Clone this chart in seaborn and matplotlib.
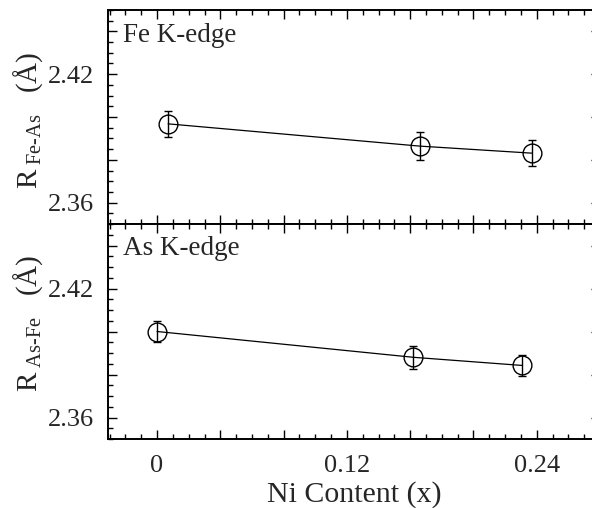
import numpy as np
import pandas as pd
import matplotlib
matplotlib.use("Agg")
import matplotlib.pyplot as plt
from matplotlib.ticker import MultipleLocator, FuncFormatter
import seaborn as sns

# Data
fe_x = [0.007, 0.166, 0.237]
fe_r = [2.3968, 2.3864, 2.3831]
fe_err = [0.0060, 0.0066, 0.0060]

as_x = [0.000, 0.162, 0.231]
as_r = [2.4000, 2.3880, 2.3842]
as_err = [0.0050, 0.0054, 0.0047]

panel_titles = ["Fe K-edge", "As K-edge"]
y_labels = [r"R$_{\ \text{Fe-As}}\quad$(Å)", r"R$_{\ \text{As-Fe}}\quad$(Å)"]
x_tick_labels = {0.0: "0", 0.12: "0.12", 0.24: "0.24"}
y_tick_labels = {2.36: "2.36", 2.42: "2.42"}

sns.set_theme(style="ticks")
plt.rcParams['font.family'] = ['Liberation Serif', 'DejaVu Serif']
plt.rcParams['mathtext.fontset'] = 'custom'
plt.rcParams['mathtext.rm'] = 'Liberation Serif'
plt.rcParams['mathtext.it'] = 'Liberation Serif:italic'
plt.rcParams['mathtext.bf'] = 'Liberation Serif:bold'

W, H = 592, 508
fig = plt.figure(figsize=(W / 100, H / 100), dpi=100)
left = 108 / W
width = (600 - 108) / W
ax_top = fig.add_axes([left, 1 - 224 / H, width, 214 / H])
ax_bot = fig.add_axes([left, 1 - 439 / H, width, 215 / H], sharex=ax_top)


def fmt_from(labels):
    def f(v, pos):
        for k, s in labels.items():
            if abs(v - k) < 1e-6:
                return s
        return ""
    return FuncFormatter(f)


panels = [
    (ax_top, fe_x, fe_r, fe_err),
    (ax_bot, as_x, as_r, as_err),
]
label_y = [0.486, 0.537]

for i, (ax, xs, rs, errs) in enumerate(panels):
    df = pd.DataFrame({"x": xs, "r": rs})
    sns.lineplot(data=df, x="x", y="r", ax=ax, color="black", lw=0.9,
                 legend=False)
    ax.errorbar(xs, rs, yerr=errs, fmt="o", mfc="none", mec="black",
                mew=1.0, ms=13.5, ecolor="black", elinewidth=1.0,
                capsize=2.6, capthick=1.0, zorder=3)

    ax.set_xlim(-0.031, 0.28)
    ax.set_ylim(2.35, 2.45)
    ax.xaxis.set_major_locator(MultipleLocator(0.04))
    ax.xaxis.set_minor_locator(MultipleLocator(0.01))
    ax.yaxis.set_major_locator(MultipleLocator(0.02))
    ax.yaxis.set_minor_locator(MultipleLocator(0.005))
    ax.yaxis.set_major_formatter(fmt_from(y_tick_labels))
    ax.tick_params(which="both", direction="in", top=True, right=True,
                   color="black", width=1.0, labelsize=19)
    ax.tick_params(axis="y", pad=9.8)
    ax.tick_params(axis="x", pad=11.5)
    ax.tick_params(which="major", length=6.5)
    ax.tick_params(which="minor", length=3.6)
    for sp in ax.spines.values():
        sp.set_linewidth(1.4)
        sp.set_color("black")
        sp.set_visible(True)

    ax.text(0.031, 0.85 if i == 0 else 0.856, panel_titles[i],
            transform=ax.transAxes, fontsize=19.5, va="baseline", ha="left")
    ax.set_ylabel(y_labels[i], fontsize=21)
    ax.yaxis.set_label_coords(-0.128, label_y[i])
    ax.set_xlabel("")

ax_top.tick_params(axis="x", labelbottom=False)
ax_bot.xaxis.set_major_formatter(fmt_from(x_tick_labels))
ax_bot.set_xlabel("Ni Content (x)", fontsize=21.5, labelpad=3)

fig.savefig("out.png", dpi=100)
